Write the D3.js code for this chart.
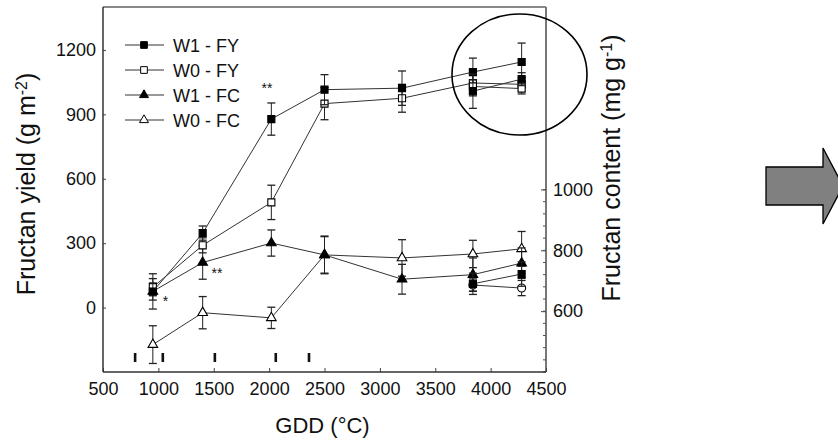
<!DOCTYPE html>
<html>
<head>
<meta charset="utf-8">
<script src="https://cdn.jsdelivr.net/npm/d3@7"></script>
<style>
  body { margin: 0; background: #fff; }
  svg text { font-family: "Liberation Sans", Arial, sans-serif; fill: #111; }
</style>
</head>
<body>
<div id="chart-area"></div>
<script>
// harvest dates (GDD) and values
var gdd = [950, 1400, 2020, 2500, 3200, 3840, 4280];

var w1fy = [75, 347, 878, 1015, 1022, 1097, 1144];
var w1fyErr = [40, 33, 75, 70, 80, 65, 88];
var w0fy = [95, 290, 490, 950, 975, 1046, 1040];
var w0fyErr = [40, 35, 80, 75, 65, 60, 30];

var w1fc = [665, 760, 824, 785, 705, 720, 758];
var w1fcErr = [58, 55, 43, 60, 49, 55, 50];
var w0fc = [490, 595, 578, 785, 775, 788, 805];
var w0fcErr = [62, 53, 35, 62, 60, 45, 57];

// second set of late harvests (inside the circled area)
var gddLate = [3840, 4280];
var w1fyLate = [1008, 1064];
var w1fyLateErr = [80, 30];
var w0fyLate = [1030, 1020];
var w0fyLateErr = [30, 25];
var w1fcLate = [690, 722];
var w1fcLateErr = [35, 40];
var w0fcLate = [686, 676];
var w0fcLateErr = [20, 25];

// small bars near the x axis
var markGdd = [790, 1040, 1510, 2060, 2360];

var xTicks = [500, 1000, 1500, 2000, 2500, 3000, 3500, 4000, 4500];
var yTicks = [0, 300, 600, 900, 1200];
var y2Ticks = [600, 800, 1000];

var legendNames = ["W1 - FY", "W0 - FY", "W1 - FC", "W0 - FC"];

var width = 838, height = 441;
var plot = {left: 103, right: 546, top: 7, bottom: 372};

var svg = d3.select("#chart-area").append("svg")
    .attr("width", width)
    .attr("height", height);

var x = d3.scaleLinear().domain([500, 4500]).range([plot.left, plot.right]);
var y = d3.scaleLinear().domain([-300, 1400]).range([plot.bottom, plot.top]);
var y2 = d3.scaleLinear().domain([400, 1600]).range([plot.bottom, plot.top]);

// frame
svg.append("line").attr("x1", plot.left).attr("x2", plot.right)
    .attr("y1", plot.top).attr("y2", plot.top)
    .attr("stroke", "#888").attr("stroke-width", 2);
svg.append("line").attr("x1", plot.right).attr("x2", plot.right)
    .attr("y1", plot.top).attr("y2", plot.bottom)
    .attr("stroke", "#777").attr("stroke-width", 2);

// axes
var fmt = d3.format("d");
var xAxis = d3.axisBottom(x).tickValues(xTicks).tickFormat(fmt).tickSizeInner(-4).tickSizeOuter(0).tickPadding(10);
var yAxis = d3.axisLeft(y).tickValues(yTicks).tickFormat(fmt).tickSizeInner(-3).tickSizeOuter(0).tickPadding(7);
var y2Axis = d3.axisRight(y2).tickValues(y2Ticks).tickFormat(fmt).tickSizeInner(-5).tickSizeOuter(0).tickPadding(7);

var xg = svg.append("g").attr("transform", "translate(0," + plot.bottom + ")").call(xAxis);
var yg = svg.append("g").attr("transform", "translate(" + plot.left + ",0)").call(yAxis);
var y2g = svg.append("g").attr("transform", "translate(" + plot.right + ",0)").call(y2Axis);

[xg, yg, y2g].forEach(function(g) {
    g.select(".domain").remove();
    g.selectAll("text").style("font-size", "18px").attr("fill", "#111");
    g.selectAll(".tick line").attr("stroke", "#444");
});

// minor ticks on the right axis
svg.append("g").selectAll("line")
    .data(d3.range(400, 1001, 40))
    .enter().append("line")
    .attr("x1", plot.right - 3).attr("x2", plot.right)
    .attr("y1", function(d) { return y2(d); })
    .attr("y2", function(d) { return y2(d); })
    .attr("stroke", "#555");

svg.append("line").attr("x1", plot.left).attr("x2", plot.left)
    .attr("y1", plot.top).attr("y2", plot.bottom)
    .attr("stroke", "#333").attr("stroke-width", 1.5);
svg.append("line").attr("x1", plot.left).attr("x2", plot.right)
    .attr("y1", plot.bottom).attr("y2", plot.bottom)
    .attr("stroke", "#333").attr("stroke-width", 1.5);

// axis titles
svg.append("text")
    .attr("x", (plot.left + plot.right) / 2 - 2)
    .attr("y", 433)
    .attr("text-anchor", "middle")
    .style("font-size", "22px")
    .text("GDD (\u00B0C)");

var lt = svg.append("text")
    .attr("transform", "translate(35,184) rotate(-90)")
    .attr("text-anchor", "middle")
    .style("font-size", "25px");
lt.append("tspan").text("Fructan yield (g m");
lt.append("tspan").attr("baseline-shift", "super").style("font-size", "16px").text("-2");
lt.append("tspan").text(")");

var rt = svg.append("text")
    .attr("transform", "translate(620,168) rotate(-90)")
    .attr("text-anchor", "middle")
    .style("font-size", "25px");
rt.append("tspan").text("Fructan content (mg g");
rt.append("tspan").attr("baseline-shift", "super").style("font-size", "16px").text("-1");
rt.append("tspan").text(")");

// series
function drawSeries(xs, vals, errs, scale, symbol, filled) {
    var pts = xs.map(function(d, i) { return {x: d, v: vals[i], e: errs[i]}; });
    var g = svg.append("g");

    g.append("path")
        .datum(pts)
        .attr("fill", "none")
        .attr("stroke", "#333")
        .attr("stroke-width", 1)
        .attr("d", d3.line()
              .x(function(d) { return x(d.x); })
              .y(function(d) { return scale(d.v); }));

    var eb = g.selectAll(".err").data(pts).enter().append("g").attr("class", "err");
    eb.append("line")
        .attr("x1", function(d) { return x(d.x); })
        .attr("x2", function(d) { return x(d.x); })
        .attr("y1", function(d) { return scale(d.v - d.e); })
        .attr("y2", function(d) { return scale(d.v + d.e); })
        .attr("stroke", "#222");
    [-1, 1].forEach(function(s) {
        eb.append("line")
            .attr("x1", function(d) { return x(d.x) - 4; })
            .attr("x2", function(d) { return x(d.x) + 4; })
            .attr("y1", function(d) { return scale(d.v + s * d.e); })
            .attr("y2", function(d) { return scale(d.v + s * d.e); })
            .attr("stroke", "#222")
            .attr("stroke-width", 1.3);
    });

    g.selectAll(".pt").data(pts).enter().append("path")
        .attr("class", "pt")
        .attr("transform", function(d) { return "translate(" + x(d.x) + "," + scale(d.v) + ")"; })
        .attr("d", d3.symbol().type(symbol).size(symbol === d3.symbolTriangle ? 40 : 50))
        .attr("fill", filled ? "#000" : "#fff")
        .attr("stroke", "#000")
        .attr("stroke-width", 1.1);
}

drawSeries(gdd, w0fc, w0fcErr, y2, d3.symbolTriangle, false);
drawSeries(gdd, w1fc, w1fcErr, y2, d3.symbolTriangle, true);
drawSeries(gdd, w0fy, w0fyErr, y, d3.symbolSquare, false);
drawSeries(gdd, w1fy, w1fyErr, y, d3.symbolSquare, true);

drawSeries(gddLate, w0fcLate, w0fcLateErr, y2, d3.symbolCircle, false);
drawSeries(gddLate, w1fcLate, w1fcLateErr, y2, d3.symbolSquare, true);
drawSeries(gddLate, w0fyLate, w0fyLateErr, y, d3.symbolSquare, false);
drawSeries(gddLate, w1fyLate, w1fyLateErr, y, d3.symbolSquare, true);

// significance stars
svg.append("text").attr("x", x(1063)).attr("y", y2(643) + 8)
    .attr("text-anchor", "middle").style("font-size", "14px").text("*");
svg.append("text").attr("x", x(1530)).attr("y", y2(735) + 8)
    .attr("text-anchor", "middle").style("font-size", "14px").text("**");
svg.append("text").attr("x", x(1980)).attr("y", y(1037) + 8)
    .attr("text-anchor", "middle").style("font-size", "14px").text("**");

// bars near x axis
svg.append("g").selectAll("rect")
    .data(markGdd)
    .enter().append("rect")
    .attr("x", function(d) { return x(d) - 1.3; })
    .attr("y", 353)
    .attr("width", 2.6)
    .attr("height", 9)
    .attr("fill", "#111");

// legend
var legendSym = [d3.symbolSquare, d3.symbolSquare, d3.symbolTriangle, d3.symbolTriangle];
var legendFill = [true, false, true, false];
var leg = svg.append("g").selectAll("g")
    .data(legendNames)
    .enter().append("g")
    .attr("transform", function(d, i) { return "translate(0," + (45 + i * 25) + ")"; });
leg.append("line").attr("x1", 125).attr("x2", 164).attr("stroke", "#333");
leg.append("path")
    .attr("transform", "translate(144,0)")
    .attr("d", function(d, i) { return d3.symbol().type(legendSym[i]).size(i < 2 ? 45 : 35)(); })
    .attr("fill", function(d, i) { return legendFill[i] ? "#000" : "#fff"; })
    .attr("stroke", "#000");
leg.append("text").attr("x", 173).attr("y", 7).style("font-size", "18px").text(function(d) { return d; });

// circled area
svg.append("ellipse")
    .attr("cx", 519.5).attr("cy", 74.5)
    .attr("rx", 67.5).attr("ry", 60.5)
    .attr("fill", "none").attr("stroke", "#000").attr("stroke-width", 1.6);

// arrow on the right
svg.append("path")
    .attr("d", "M766,167 L823,167 L823,148 L843,186 L823,224 L823,205 L766,205 Z")
    .attr("fill", "#808080")
    .attr("stroke", "#000")
    .attr("stroke-width", 1.3);
</script>
</body>
</html>
